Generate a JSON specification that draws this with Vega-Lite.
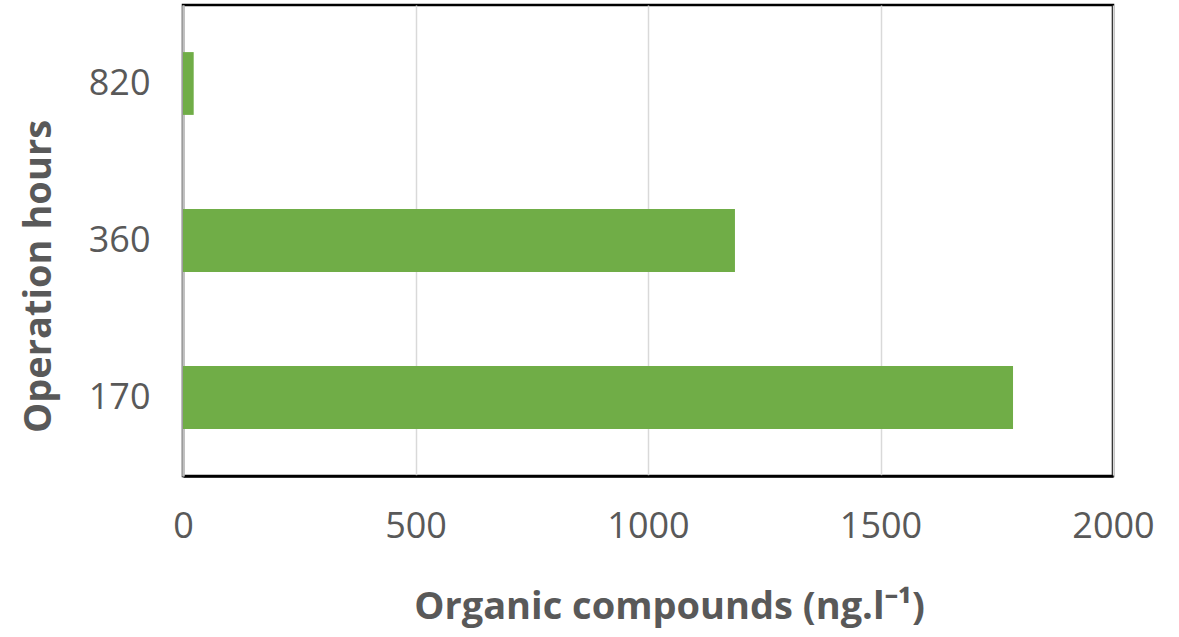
{
  "$schema": "https://vega.github.io/schema/vega-lite/v6.json",
  "autosize": {"type": "none"},
  "padding": {"left": 183, "top": 5, "right": 66, "bottom": 161},
  "width": 930,
  "height": 471,
  "background": "white",
  "config": {
    "view": {"stroke": "#000000", "strokeWidth": 2.5},
    "font": "Open Sans"
  },
  "data": {
    "values": [
      {"hours": "820", "value": 23},
      {"hours": "360", "value": 1187},
      {"hours": "170", "value": 1785}
    ]
  },
  "mark": {"type": "bar", "color": "#70ad47"},
  "encoding": {
    "y": {
      "field": "hours",
      "type": "nominal",
      "sort": ["820", "360", "170"],
      "scale": {"paddingInner": 0.6, "paddingOuter": 0.3},
      "axis": {
        "title": "Operation hours",
        "titleFont": "Open Sans",
        "titleFontSize": 38,
        "titleFontWeight": "bold",
        "titleColor": "#595959",
        "titlePadding": 30,
        "titleY": 271,
        "labelFont": "Open Sans",
        "labelFontSize": 36,
        "labelColor": "#595959",
        "labelPadding": 33,
        "ticks": false,
        "domainColor": "#bfbfbf",
        "domainWidth": 2.5,
        "grid": false
      }
    },
    "x": {
      "field": "value",
      "type": "quantitative",
      "scale": {"domain": [0, 2000], "nice": false},
      "axis": {
        "title": "Organic compounds (ng.l⁻¹)",
        "titleFont": "Open Sans",
        "titleFontSize": 38,
        "titleFontWeight": "bold",
        "titleColor": "#595959",
        "titlePadding": 44,
        "titleX": 486,
        "labelFont": "Open Sans",
        "labelFontSize": 36,
        "labelColor": "#595959",
        "labelPadding": 33,
        "format": "d",
        "values": [0, 500, 1000, 1500, 2000],
        "ticks": false,
        "domainColor": "#000000",
        "domainWidth": 2.5,
        "grid": true,
        "gridColor": "#d9d9d9",
        "gridWidth": 1.5,
        "labelFlush": false
      }
    }
  }
}
